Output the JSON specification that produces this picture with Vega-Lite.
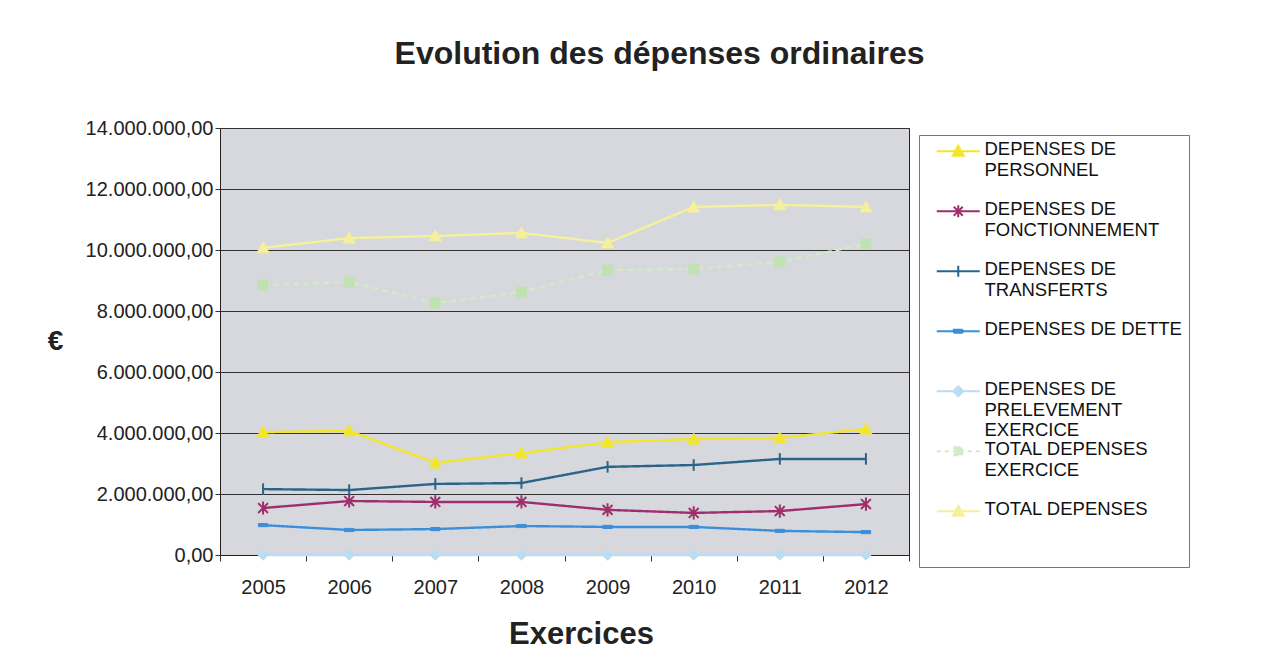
{
  "$schema": "https://vega.github.io/schema/vega-lite/v6.json",
  "autosize": "none",
  "width": 689,
  "height": 427,
  "padding": {"left": 220, "top": 128, "right": 354, "bottom": 110},
  "background": "white",
  "title": {
    "text": "Evolution des dépenses ordinaires",
    "font": "Liberation Sans",
    "fontSize": 32,
    "fontWeight": "bold",
    "color": "#222222",
    "anchor": "middle",
    "frame": "group",
    "dx": 95,
    "offset": 47
  },
  "data": {
    "values": [
      {"annee": "2005", "serie": "DEPENSES DE PERSONNEL", "valeur": 4030000},
      {"annee": "2006", "serie": "DEPENSES DE PERSONNEL", "valeur": 4070000},
      {"annee": "2007", "serie": "DEPENSES DE PERSONNEL", "valeur": 3020000},
      {"annee": "2008", "serie": "DEPENSES DE PERSONNEL", "valeur": 3340000},
      {"annee": "2009", "serie": "DEPENSES DE PERSONNEL", "valeur": 3700000},
      {"annee": "2010", "serie": "DEPENSES DE PERSONNEL", "valeur": 3800000},
      {"annee": "2011", "serie": "DEPENSES DE PERSONNEL", "valeur": 3840000},
      {"annee": "2012", "serie": "DEPENSES DE PERSONNEL", "valeur": 4130000},
      {"annee": "2005", "serie": "DEPENSES DE FONCTIONNEMENT", "valeur": 1540000},
      {"annee": "2006", "serie": "DEPENSES DE FONCTIONNEMENT", "valeur": 1770000},
      {"annee": "2007", "serie": "DEPENSES DE FONCTIONNEMENT", "valeur": 1740000},
      {"annee": "2008", "serie": "DEPENSES DE FONCTIONNEMENT", "valeur": 1740000},
      {"annee": "2009", "serie": "DEPENSES DE FONCTIONNEMENT", "valeur": 1480000},
      {"annee": "2010", "serie": "DEPENSES DE FONCTIONNEMENT", "valeur": 1380000},
      {"annee": "2011", "serie": "DEPENSES DE FONCTIONNEMENT", "valeur": 1440000},
      {"annee": "2012", "serie": "DEPENSES DE FONCTIONNEMENT", "valeur": 1670000},
      {"annee": "2005", "serie": "DEPENSES DE TRANSFERTS", "valeur": 2160000},
      {"annee": "2006", "serie": "DEPENSES DE TRANSFERTS", "valeur": 2130000},
      {"annee": "2007", "serie": "DEPENSES DE TRANSFERTS", "valeur": 2330000},
      {"annee": "2008", "serie": "DEPENSES DE TRANSFERTS", "valeur": 2360000},
      {"annee": "2009", "serie": "DEPENSES DE TRANSFERTS", "valeur": 2890000},
      {"annee": "2010", "serie": "DEPENSES DE TRANSFERTS", "valeur": 2950000},
      {"annee": "2011", "serie": "DEPENSES DE TRANSFERTS", "valeur": 3150000},
      {"annee": "2012", "serie": "DEPENSES DE TRANSFERTS", "valeur": 3150000},
      {"annee": "2005", "serie": "DEPENSES DE DETTE", "valeur": 980000},
      {"annee": "2006", "serie": "DEPENSES DE DETTE", "valeur": 820000},
      {"annee": "2007", "serie": "DEPENSES DE DETTE", "valeur": 850000},
      {"annee": "2008", "serie": "DEPENSES DE DETTE", "valeur": 950000},
      {"annee": "2009", "serie": "DEPENSES DE DETTE", "valeur": 920000},
      {"annee": "2010", "serie": "DEPENSES DE DETTE", "valeur": 920000},
      {"annee": "2011", "serie": "DEPENSES DE DETTE", "valeur": 790000},
      {"annee": "2012", "serie": "DEPENSES DE DETTE", "valeur": 750000},
      {"annee": "2005", "serie": "DEPENSES DE PRELEVEMENT EXERCICE", "valeur": 0},
      {"annee": "2006", "serie": "DEPENSES DE PRELEVEMENT EXERCICE", "valeur": 0},
      {"annee": "2007", "serie": "DEPENSES DE PRELEVEMENT EXERCICE", "valeur": 0},
      {"annee": "2008", "serie": "DEPENSES DE PRELEVEMENT EXERCICE", "valeur": 0},
      {"annee": "2009", "serie": "DEPENSES DE PRELEVEMENT EXERCICE", "valeur": 0},
      {"annee": "2010", "serie": "DEPENSES DE PRELEVEMENT EXERCICE", "valeur": 0},
      {"annee": "2011", "serie": "DEPENSES DE PRELEVEMENT EXERCICE", "valeur": 0},
      {"annee": "2012", "serie": "DEPENSES DE PRELEVEMENT EXERCICE", "valeur": 0},
      {"annee": "2005", "serie": "TOTAL DEPENSES EXERCICE", "valeur": 8850000},
      {"annee": "2006", "serie": "TOTAL DEPENSES EXERCICE", "valeur": 8950000},
      {"annee": "2007", "serie": "TOTAL DEPENSES EXERCICE", "valeur": 8260000},
      {"annee": "2008", "serie": "TOTAL DEPENSES EXERCICE", "valeur": 8620000},
      {"annee": "2009", "serie": "TOTAL DEPENSES EXERCICE", "valeur": 9340000},
      {"annee": "2010", "serie": "TOTAL DEPENSES EXERCICE", "valeur": 9380000},
      {"annee": "2011", "serie": "TOTAL DEPENSES EXERCICE", "valeur": 9610000},
      {"annee": "2012", "serie": "TOTAL DEPENSES EXERCICE", "valeur": 10200000},
      {"annee": "2005", "serie": "TOTAL DEPENSES", "valeur": 10070000},
      {"annee": "2006", "serie": "TOTAL DEPENSES", "valeur": 10390000},
      {"annee": "2007", "serie": "TOTAL DEPENSES", "valeur": 10460000},
      {"annee": "2008", "serie": "TOTAL DEPENSES", "valeur": 10560000},
      {"annee": "2009", "serie": "TOTAL DEPENSES", "valeur": 10230000},
      {"annee": "2010", "serie": "TOTAL DEPENSES", "valeur": 11410000},
      {"annee": "2011", "serie": "TOTAL DEPENSES", "valeur": 11480000},
      {"annee": "2012", "serie": "TOTAL DEPENSES", "valeur": 11410000}
    ]
  },
  "encoding": {
    "x": {
      "field": "annee",
      "type": "ordinal",
      "bandPosition": 0.5,
      "scale": {"type": "band", "paddingInner": 0, "paddingOuter": 0},
      "axis": {
        "title": "Exercices",
        "titleFont": "Liberation Sans",
        "titleFontSize": 31,
        "titleFontWeight": "bold",
        "titleColor": "#222222",
        "titleX": 361,
        "titleY": 79,
        "titleAlign": "center",
        "titleBaseline": "middle",
        "labelAngle": 0,
        "labelFont": "Liberation Sans",
        "labelFontSize": 20,
        "labelColor": "#222222",
        "labelPadding": 16,
        "tickBand": "extent",
        "tickSize": 6,
        "tickColor": "#333333",
        "domainColor": "#222222",
        "grid": false
      }
    },
    "y": {
      "field": "valeur",
      "type": "quantitative",
      "scale": {"domain": [0, 14000000], "nice": false},
      "axis": {
        "values": [0, 2000000, 4000000, 6000000, 8000000, 10000000, 12000000, 14000000],
        "labelExpr": "replace(join(split(replace(format(datum.value, ',.2f'), '.', '|'), ','), '.'), '|', ',')",
        "title": "€",
        "titleAngle": 0,
        "titleX": -165,
        "titleY": 213,
        "titleAlign": "center",
        "titleBaseline": "middle",
        "titleFont": "Liberation Sans",
        "titleFontSize": 28,
        "titleFontWeight": "bold",
        "titleColor": "#222222",
        "labelFont": "Liberation Sans",
        "labelFontSize": 20,
        "labelColor": "#222222",
        "labelPadding": 2,
        "tickSize": 5,
        "tickColor": "#333333",
        "domainColor": "#222222",
        "grid": true,
        "gridColor": "#333333",
        "gridWidth": 1,
        "gridOpacity": 1
      }
    }
  },
  "layer": [
    {
      "mark": {"type": "line", "strokeWidth": 2.4},
      "encoding": {
        "color": {
          "field": "serie",
          "type": "nominal",
          "scale": {
            "domain": ["DEPENSES DE PERSONNEL", "DEPENSES DE FONCTIONNEMENT", "DEPENSES DE TRANSFERTS", "DEPENSES DE DETTE", "DEPENSES DE PRELEVEMENT EXERCICE", "TOTAL DEPENSES EXERCICE", "TOTAL DEPENSES"],
            "range": ["#f2e62c", "#9e2e6c", "#2a6488", "#3b8fda", "#bcdcf2", "#d2eac6", "#f5f09a"]
          },
          "legend": {
            "title": null,
            "orient": "none",
            "legendX": 699,
            "legendY": 7,
            "padding": 7,
            "strokeColor": "#777777",
            "fillColor": "white",
            "labelFont": "Liberation Sans",
            "labelFontSize": 18.5,
            "labelColor": "#111111",
            "labelLimit": 400,
            "labelBaseline": "top",
            "labelOffset": 17,
            "symbolOffset": 23,
            "symbolSize": 100,
            "symbolOpacity": 1,
            "symbolStrokeWidth": 2,
            "gridAlign": "all",
            "rowPadding": 0,
            "labelExpr": "datum.label == 'DEPENSES DE PERSONNEL' ? ['DEPENSES DE', 'PERSONNEL'] : datum.label == 'DEPENSES DE FONCTIONNEMENT' ? ['DEPENSES DE', 'FONCTIONNEMENT'] : datum.label == 'DEPENSES DE TRANSFERTS' ? ['DEPENSES DE', 'TRANSFERTS'] : datum.label == 'DEPENSES DE PRELEVEMENT EXERCICE' ? ['DEPENSES DE', 'PRELEVEMENT', 'EXERCICE'] : datum.label == 'TOTAL DEPENSES EXERCICE' ? ['TOTAL DEPENSES', 'EXERCICE'] : datum.label == 'TOTAL DEPENSES' ? ['TOTAL DEPENSES', ' ', ' '] : datum.label",
            "encode": {
              "labels": {"update": {"dy": {"value": -11}, "lineHeight": {"value": 20.3}}}
            }
          }
        },
        "strokeDash": {
          "field": "serie",
          "type": "nominal",
          "scale": {
            "domain": ["DEPENSES DE PERSONNEL", "DEPENSES DE FONCTIONNEMENT", "DEPENSES DE TRANSFERTS", "DEPENSES DE DETTE", "DEPENSES DE PRELEVEMENT EXERCICE", "TOTAL DEPENSES EXERCICE", "TOTAL DEPENSES"],
            "range": [[1, 0], [1, 0], [1, 0], [1, 0], [1, 0], [6, 4], [1, 0]]
          },
          "legend": null
        }
      }
    },
    {
      "mark": {"type": "point", "filled": true, "size": 100, "opacity": 0},
      "encoding": {
        "color": {"field": "serie", "type": "nominal"},
        "shape": {
          "field": "serie",
          "type": "nominal",
          "scale": {
            "domain": ["DEPENSES DE PERSONNEL", "DEPENSES DE FONCTIONNEMENT", "DEPENSES DE TRANSFERTS", "DEPENSES DE DETTE", "DEPENSES DE PRELEVEMENT EXERCICE", "TOTAL DEPENSES EXERCICE", "TOTAL DEPENSES"],
            "range": ["M-4.3,0L4.3,0M0,-1.1L1.1,0.9L-1.1,0.9Z", "M-4.3,0L4.3,0M-0.9,-0.9L0.9,0.9M-0.9,0.9L0.9,-0.9M0,-1.2L0,1.2", "M-4.3,0L4.3,0M0,-1.1L0,1.1", "M-4.3,0L4.3,0M-0.9,-0.3L0.9,-0.3L0.9,0.3L-0.9,0.3Z", "M-4.3,0L4.3,0M0,-1L1,0L0,1L-1,0Z", "M-4.3,0L-3.5,0M-2.7,0L-1.9,0M-1.1,0L-0.9,0M0.9,0L1.1,0M1.9,0L2.7,0M3.5,0L4.3,0M-0.8,-0.8L0.8,-0.8L0.8,0.8L-0.8,0.8Z", "M-4.3,0L4.3,0M0,-1.1L1.1,0.9L-1.1,0.9Z"]
          },
          "legend": null
        }
      }
    },
    {
      "transform": [{"filter": {"field": "serie", "equal": "DEPENSES DE PERSONNEL"}}],
      "mark": {"type": "point", "filled": true, "size": 120, "shape": "M0,-1.1L1.1,0.9L-1.1,0.9Z", "color": "#f2e62c", "stroke": "#f2e62c", "strokeWidth": 1, "opacity": 1}
    },
    {
      "transform": [{"filter": {"field": "serie", "equal": "DEPENSES DE FONCTIONNEMENT"}}],
      "mark": {"type": "point", "filled": false, "size": 120, "shape": "M-0.9,-0.9L0.9,0.9M-0.9,0.9L0.9,-0.9M0,-1.2L0,1.2", "color": "#9e2e6c", "strokeWidth": 2, "opacity": 1}
    },
    {
      "transform": [{"filter": {"field": "serie", "equal": "DEPENSES DE TRANSFERTS"}}],
      "mark": {"type": "point", "filled": false, "size": 110, "shape": "M0,-1.1L0,1.1", "color": "#2a6488", "strokeWidth": 2, "opacity": 1}
    },
    {
      "transform": [{"filter": {"field": "serie", "equal": "DEPENSES DE DETTE"}}],
      "mark": {"type": "point", "filled": true, "size": 110, "shape": "M-0.9,-0.3L0.9,-0.3L0.9,0.3L-0.9,0.3Z", "color": "#3b8fda", "stroke": "#3b8fda", "strokeWidth": 1, "opacity": 1}
    },
    {
      "transform": [{"filter": {"field": "serie", "equal": "DEPENSES DE PRELEVEMENT EXERCICE"}}],
      "mark": {"type": "point", "filled": true, "size": 110, "shape": "diamond", "color": "#bcdcf2", "stroke": "#bcdcf2", "strokeWidth": 1, "opacity": 1}
    },
    {
      "transform": [{"filter": {"field": "serie", "equal": "TOTAL DEPENSES EXERCICE"}}],
      "mark": {"type": "point", "filled": true, "size": 100, "shape": "square", "color": "#c0e2b2", "stroke": "#c0e2b2", "strokeWidth": 1, "opacity": 1}
    },
    {
      "transform": [{"filter": {"field": "serie", "equal": "TOTAL DEPENSES"}}],
      "mark": {"type": "point", "filled": true, "size": 120, "shape": "M0,-1.1L1.1,0.9L-1.1,0.9Z", "color": "#f5f09a", "stroke": "#f5f09a", "strokeWidth": 1, "opacity": 1}
    }
  ],
  "config": {
    "view": {"fill": "#d7d8dd", "stroke": "#222222", "strokeWidth": 1}
  }
}
